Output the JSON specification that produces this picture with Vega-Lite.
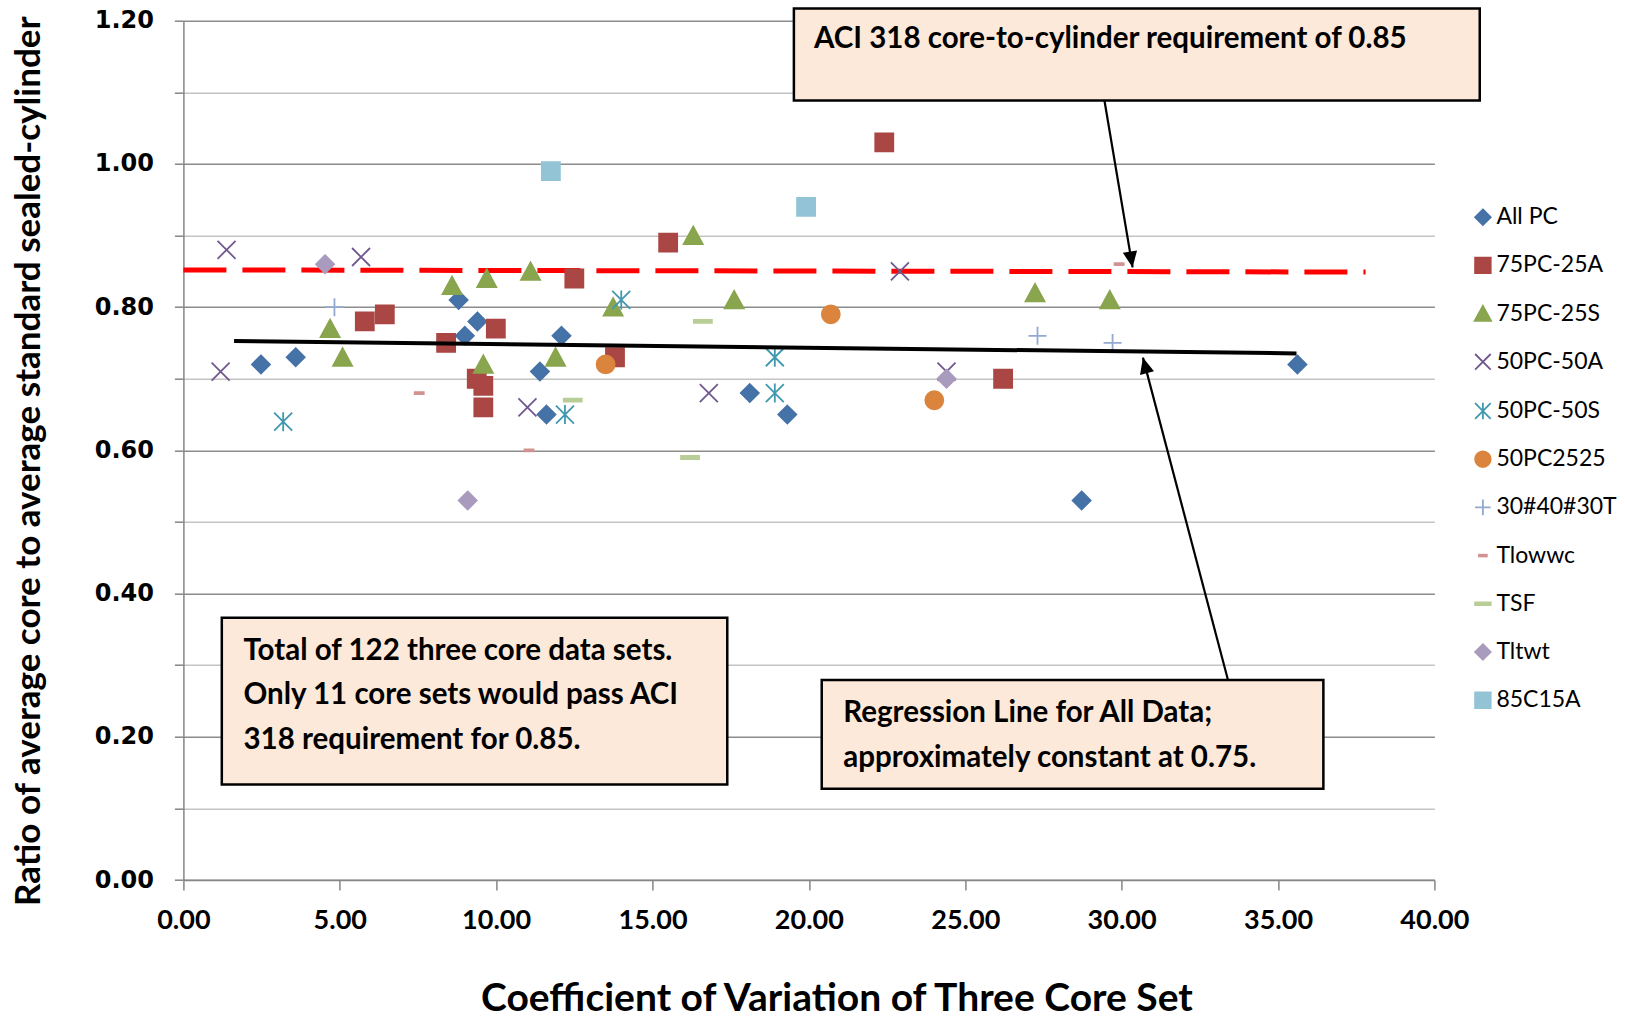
{
  "$schema": "https://vega.github.io/schema/vega-lite/v6.json",
  "autosize": {"type": "none"},
  "padding": {"left": 183.4, "top": 20.7, "right": 190.6, "bottom": 138},
  "width": 1251,
  "height": 859.3,
  "background": "white",
  "config": {
    "view": {"stroke": null},
    "font": "Lato",
    "legend": {"labelFont": "Lato", "labelFontSize": 23, "labelColor": "black", "symbolSize": 300, "symbolStrokeWidth": 1.8, "rowPadding": 24.2, "padding": 0, "labelOffset": 2, "symbolOpacity": 1}
  },
  "datasets": {
    "points": [
      {"series": "All PC", "cv": 2.48, "ratio": 0.72},
      {"series": "All PC", "cv": 3.59, "ratio": 0.73},
      {"series": "All PC", "cv": 8.80, "ratio": 0.81},
      {"series": "All PC", "cv": 9.00, "ratio": 0.76},
      {"series": "All PC", "cv": 9.40, "ratio": 0.78},
      {"series": "All PC", "cv": 11.40, "ratio": 0.71},
      {"series": "All PC", "cv": 11.61, "ratio": 0.65},
      {"series": "All PC", "cv": 12.09, "ratio": 0.76},
      {"series": "All PC", "cv": 18.11, "ratio": 0.68},
      {"series": "All PC", "cv": 19.31, "ratio": 0.65},
      {"series": "All PC", "cv": 28.72, "ratio": 0.53},
      {"series": "All PC", "cv": 35.62, "ratio": 0.72},
      {"series": "75PC-25A", "cv": 5.80, "ratio": 0.78},
      {"series": "75PC-25A", "cv": 6.44, "ratio": 0.79},
      {"series": "75PC-25A", "cv": 8.40, "ratio": 0.75},
      {"series": "75PC-25A", "cv": 9.38, "ratio": 0.70},
      {"series": "75PC-25A", "cv": 9.59, "ratio": 0.69},
      {"series": "75PC-25A", "cv": 9.59, "ratio": 0.66},
      {"series": "75PC-25A", "cv": 9.99, "ratio": 0.77},
      {"series": "75PC-25A", "cv": 12.50, "ratio": 0.84},
      {"series": "75PC-25A", "cv": 13.80, "ratio": 0.73},
      {"series": "75PC-25A", "cv": 15.50, "ratio": 0.89},
      {"series": "75PC-25A", "cv": 22.41, "ratio": 1.03},
      {"series": "75PC-25A", "cv": 26.21, "ratio": 0.70},
      {"series": "75PC-25S", "cv": 4.69, "ratio": 0.77},
      {"series": "75PC-25S", "cv": 5.09, "ratio": 0.73},
      {"series": "75PC-25S", "cv": 8.59, "ratio": 0.83},
      {"series": "75PC-25S", "cv": 9.70, "ratio": 0.84},
      {"series": "75PC-25S", "cv": 9.59, "ratio": 0.72},
      {"series": "75PC-25S", "cv": 11.10, "ratio": 0.85},
      {"series": "75PC-25S", "cv": 11.90, "ratio": 0.73},
      {"series": "75PC-25S", "cv": 13.74, "ratio": 0.80},
      {"series": "75PC-25S", "cv": 16.30, "ratio": 0.90},
      {"series": "75PC-25S", "cv": 17.61, "ratio": 0.81},
      {"series": "75PC-25S", "cv": 27.23, "ratio": 0.82},
      {"series": "75PC-25S", "cv": 29.62, "ratio": 0.81},
      {"series": "50PC-50A", "cv": 1.38, "ratio": 0.88},
      {"series": "50PC-50A", "cv": 1.19, "ratio": 0.71},
      {"series": "50PC-50A", "cv": 5.68, "ratio": 0.87},
      {"series": "50PC-50A", "cv": 11.00, "ratio": 0.66},
      {"series": "50PC-50A", "cv": 16.80, "ratio": 0.68},
      {"series": "50PC-50A", "cv": 22.91, "ratio": 0.85},
      {"series": "50PC-50A", "cv": 24.40, "ratio": 0.71},
      {"series": "50PC-50S", "cv": 3.19, "ratio": 0.64},
      {"series": "50PC-50S", "cv": 12.20, "ratio": 0.65},
      {"series": "50PC-50S", "cv": 14.00, "ratio": 0.81},
      {"series": "50PC-50S", "cv": 18.91, "ratio": 0.73},
      {"series": "50PC-50S", "cv": 18.91, "ratio": 0.68},
      {"series": "50PC2525", "cv": 13.50, "ratio": 0.72},
      {"series": "50PC2525", "cv": 20.70, "ratio": 0.79},
      {"series": "50PC2525", "cv": 24.01, "ratio": 0.67},
      {"series": "30#40#30T", "cv": 4.83, "ratio": 0.80},
      {"series": "30#40#30T", "cv": 27.31, "ratio": 0.76},
      {"series": "30#40#30T", "cv": 29.71, "ratio": 0.75},
      {"series": "Tlowwc", "cv": 7.54, "ratio": 0.68},
      {"series": "Tlowwc", "cv": 11.05, "ratio": 0.60},
      {"series": "Tlowwc", "cv": 29.92, "ratio": 0.86},
      {"series": "TSF", "cv": 12.45, "ratio": 0.67},
      {"series": "TSF", "cv": 16.61, "ratio": 0.78},
      {"series": "TSF", "cv": 16.20, "ratio": 0.59},
      {"series": "Tltwt", "cv": 4.53, "ratio": 0.86},
      {"series": "Tltwt", "cv": 9.09, "ratio": 0.53},
      {"series": "Tltwt", "cv": 24.40, "ratio": 0.70},
      {"series": "85C15A", "cv": 11.75, "ratio": 0.99},
      {"series": "85C15A", "cv": 19.91, "ratio": 0.94}
    ],
    "aciLine": [{"cv": 0, "ratio": 0.852, "cv2": 37.8, "ratio2": 0.849}],
    "regression": [{"cv": 1.62, "ratio": 0.7527, "cv2": 35.59, "ratio2": 0.7354}],
    "boxes": [
      {"box": "aci", "cv": 19.52, "cv2": 41.45, "ratio": 1.217, "ratio2": 1.0885},
      {"box": "total", "cv": 1.228, "cv2": 17.39, "ratio": 0.3663, "ratio2": 0.1332},
      {"box": "regression", "cv": 20.41, "cv2": 36.45, "ratio": 0.2793, "ratio2": 0.1275}
    ],
    "notes": [
      {"text": "ACI 318 core-to-cylinder requirement of 0.85", "cv": 20.16, "ratio": 1.1739},
      {"text": "Total of 122 three core data sets.", "cv": 1.92, "ratio": 0.3198},
      {"text": "Only 11 core sets would pass ACI", "cv": 1.92, "ratio": 0.2578},
      {"text": "318 requirement for 0.85.", "cv": 1.92, "ratio": 0.1955},
      {"text": "Regression Line for All Data;", "cv": 21.1, "ratio": 0.2332},
      {"text": "approximately constant at 0.75.", "cv": 21.1, "ratio": 0.1709}
    ],
    "arrows": [
      {"name": "aci", "cv": 29.45, "ratio": 1.0885, "cv2": 30.35, "ratio2": 0.8555},
      {"name": "regression", "cv": 33.4, "ratio": 0.2793, "cv2": 30.68, "ratio2": 0.7295}
    ]
  },
  "layer": [
    {
      "data": {"name": "aciLine"},
      "mark": {"type": "rule", "color": "#FF0000", "strokeWidth": 5, "strokeDash": [43, 16]},
      "encoding": {
        "x": {"field": "cv", "type": "quantitative", "scale": {"domain": [0, 40], "nice": false, "zero": false}},
        "y": {"field": "ratio", "type": "quantitative", "scale": {"domain": [0, 1.2], "nice": false}},
        "x2": {"field": "cv2"},
        "y2": {"field": "ratio2"}
      }
    },
    {
      "data": {"name": "points"},
      "mark": {"type": "point", "filled": true, "size": 400, "strokeWidth": 1.8, "opacity": 1},
      "encoding": {
        "x": {
          "field": "cv", "type": "quantitative",
          "scale": {"domain": [0, 40], "nice": false, "zero": false},
          "axis": {
            "title": "Coefficient of Variation of Three Core Set",
            "values": [0, 5, 10, 15, 20, 25, 30, 35, 40],
            "format": ".2f",
            "grid": false,
            "labelFont": "Lato", "labelFontWeight": "bold", "labelFontSize": 27, "labelColor": "black",
            "labelPadding": 17, "labelFlush": false, "labelOverlap": false,
            "tickSize": 10, "tickColor": "#868686", "tickWidth": 1.5,
            "domainColor": "#868686", "domainWidth": 1.5,
            "titleFont": "Lato", "titleFontSize": 39, "titleFontWeight": "bold", "titleColor": "black",
            "titleX": 653, "titleY": 118, "titleBaseline": "middle", "titleAlign": "center", "titleAnchor": null
          }
        },
        "y": {
          "field": "ratio", "type": "quantitative",
          "scale": {"domain": [0, 1.2], "nice": false},
          "axis": {
            "title": "Ratio of average core to average standard sealed-cylinder",
            "values": [0, 0.05, 0.1, 0.15, 0.2, 0.25, 0.3, 0.35, 0.4, 0.45, 0.5, 0.55, 0.6, 0.65, 0.7, 0.75, 0.8, 0.85, 0.9, 0.95, 1, 1.05, 1.1, 1.15, 1.2],
            "labelExpr": "abs(datum.value*5 - round(datum.value*5)) < 0.001 ? format(datum.value, '.2f') : ''",
            "grid": true,
            "gridColor": {"condition": {"test": "abs(datum.value*5 - round(datum.value*5)) < 0.001", "value": "#8C8C8C"}, "value": "#C4C4C4"},
            "gridWidth": 1.4,
            "labelFont": "DejaVu Sans", "labelFontWeight": "bold", "labelFontSize": 24, "labelColor": "black",
            "labelPadding": 21, "labelOverlap": false, "labelFlush": false,
            "tickSize": 9, "tickColor": "#868686", "tickWidth": 1.5,
            "domainColor": "#868686", "domainWidth": 1.5,
            "titleFont": "Lato", "titleFontSize": 35, "titleFontWeight": "bold", "titleColor": "black",
            "titleX": -155, "titleY": 440, "titleBaseline": "middle", "titleAlign": "center", "titleAngle": -90, "titleAnchor": null
          }
        },
        "fill": {
          "field": "series", "type": "nominal",
          "scale": {
            "domain": ["All PC", "75PC-25A", "75PC-25S", "50PC-50A", "50PC-50S", "50PC2525", "30#40#30T", "Tlowwc", "TSF", "Tltwt", "85C15A"],
            "range": ["#4572A7", "#AA4643", "#89A54E", "#71588F", "#4198AF", "#DB843D", "#93A9CF", "#D19392", "#B9CD96", "#A99BBD", "#93C4D6"]
          },
          "legend": {"title": null, "orient": "none", "legendX": 1288, "legendY": 185}
        },
        "stroke": {
          "field": "series", "type": "nominal",
          "scale": {
            "domain": ["All PC", "75PC-25A", "75PC-25S", "50PC-50A", "50PC-50S", "50PC2525", "30#40#30T", "Tlowwc", "TSF", "Tltwt", "85C15A"],
            "range": ["#4572A7", "#AA4643", "#89A54E", "#71588F", "#4198AF", "#DB843D", "#93A9CF", "#D19392", "#B9CD96", "#A99BBD", "#93C4D6"]
          },
          "legend": {"title": null, "orient": "none", "legendX": 1288, "legendY": 185}
        },
        "shape": {
          "field": "series", "type": "nominal",
          "scale": {
            "domain": ["All PC", "75PC-25A", "75PC-25S", "50PC-50A", "50PC-50S", "50PC2525", "30#40#30T", "Tlowwc", "TSF", "Tltwt", "85C15A"],
            "range": [
              "M0,-0.9L0.9,0L0,0.9L-0.9,0Z",
              "M-0.9,-0.9L0.9,-0.9L0.9,0.9L-0.9,0.9Z",
              "M0,-0.9L0.95,0.85L-0.95,0.85Z",
              "M-0.9,-0.9L0.9,0.9M-0.9,0.9L0.9,-0.9",
              "M-0.9,-0.9L0.9,0.9M-0.9,0.9L0.9,-0.9M0,-0.95L0,0.95",
              "M0.9,0L0.8315,0.3444L0.6364,0.6364L0.3444,0.8315L0,0.9L-0.3444,0.8315L-0.6364,0.6364L-0.8315,0.3444L-0.9,0L-0.8315,-0.3444L-0.6364,-0.6364L-0.3444,-0.8315L0,-0.9L0.3444,-0.8315L0.6364,-0.6364L0.8315,-0.3444Z",
              "M-0.9,0L0.9,0M0,-0.9L0,0.9",
              "M-0.45,-0.1L0.45,-0.1L0.45,0.1L-0.45,0.1Z",
              "M-0.9,-0.15L0.9,-0.15L0.9,0.15L-0.9,0.15Z",
              "M0,-0.9L0.9,0L0,0.9L-0.9,0Z",
              "M-0.9,-0.9L0.9,-0.9L0.9,0.9L-0.9,0.9Z"
            ]
          },
          "legend": {"title": null, "orient": "none", "legendX": 1288, "legendY": 185}
        }
      }
    },
    {
      "data": {"name": "regression"},
      "mark": {"type": "rule", "color": "black", "strokeWidth": 4},
      "encoding": {
        "x": {"field": "cv", "type": "quantitative", "scale": {"domain": [0, 40], "nice": false, "zero": false}},
        "y": {"field": "ratio", "type": "quantitative", "scale": {"domain": [0, 1.2], "nice": false}},
        "x2": {"field": "cv2"},
        "y2": {"field": "ratio2"}
      }
    },
    {
      "data": {"name": "boxes"},
      "mark": {"type": "rect", "fill": "#FDE9D9", "stroke": "black", "strokeWidth": 2.5, "opacity": 1},
      "encoding": {
        "x": {"field": "cv", "type": "quantitative", "scale": {"domain": [0, 40], "nice": false, "zero": false}},
        "y": {"field": "ratio", "type": "quantitative", "scale": {"domain": [0, 1.2], "nice": false}},
        "x2": {"field": "cv2"},
        "y2": {"field": "ratio2"}
      }
    },
    {
      "data": {"name": "notes"},
      "mark": {"type": "text", "align": "left", "baseline": "middle", "font": "Lato", "fontWeight": "bold", "fontSize": 29.5, "color": "black"},
      "encoding": {
        "x": {"field": "cv", "type": "quantitative", "scale": {"domain": [0, 40], "nice": false, "zero": false}},
        "y": {"field": "ratio", "type": "quantitative", "scale": {"domain": [0, 1.2], "nice": false}},
        "text": {"field": "text", "type": "nominal"}
      }
    },
    {
      "data": {"name": "arrows"},
      "mark": {"type": "rule", "color": "black", "strokeWidth": 2.2},
      "encoding": {
        "x": {"field": "cv", "type": "quantitative", "scale": {"domain": [0, 40], "nice": false, "zero": false}},
        "y": {"field": "ratio", "type": "quantitative", "scale": {"domain": [0, 1.2], "nice": false}},
        "x2": {"field": "cv2"},
        "y2": {"field": "ratio2"}
      }
    },
    {
      "data": {"name": "arrows"},
      "transform": [{"filter": "datum.name === 'aci'"}],
      "mark": {"type": "point", "shape": "M0,0L-0.45,1L0.45,1Z", "size": 1024, "filled": true, "color": "black", "opacity": 1, "angle": 170.5},
      "encoding": {
        "x": {"field": "cv2", "type": "quantitative", "scale": {"domain": [0, 40], "nice": false, "zero": false}},
        "y": {"field": "ratio2", "type": "quantitative", "scale": {"domain": [0, 1.2], "nice": false}}
      }
    },
    {
      "data": {"name": "arrows"},
      "transform": [{"filter": "datum.name === 'regression'"}],
      "mark": {"type": "point", "shape": "M0,0L-0.45,1L0.45,1Z", "size": 1024, "filled": true, "color": "black", "opacity": 1, "angle": 345.2},
      "encoding": {
        "x": {"field": "cv2", "type": "quantitative", "scale": {"domain": [0, 40], "nice": false, "zero": false}},
        "y": {"field": "ratio2", "type": "quantitative", "scale": {"domain": [0, 1.2], "nice": false}}
      }
    }
  ]
}
